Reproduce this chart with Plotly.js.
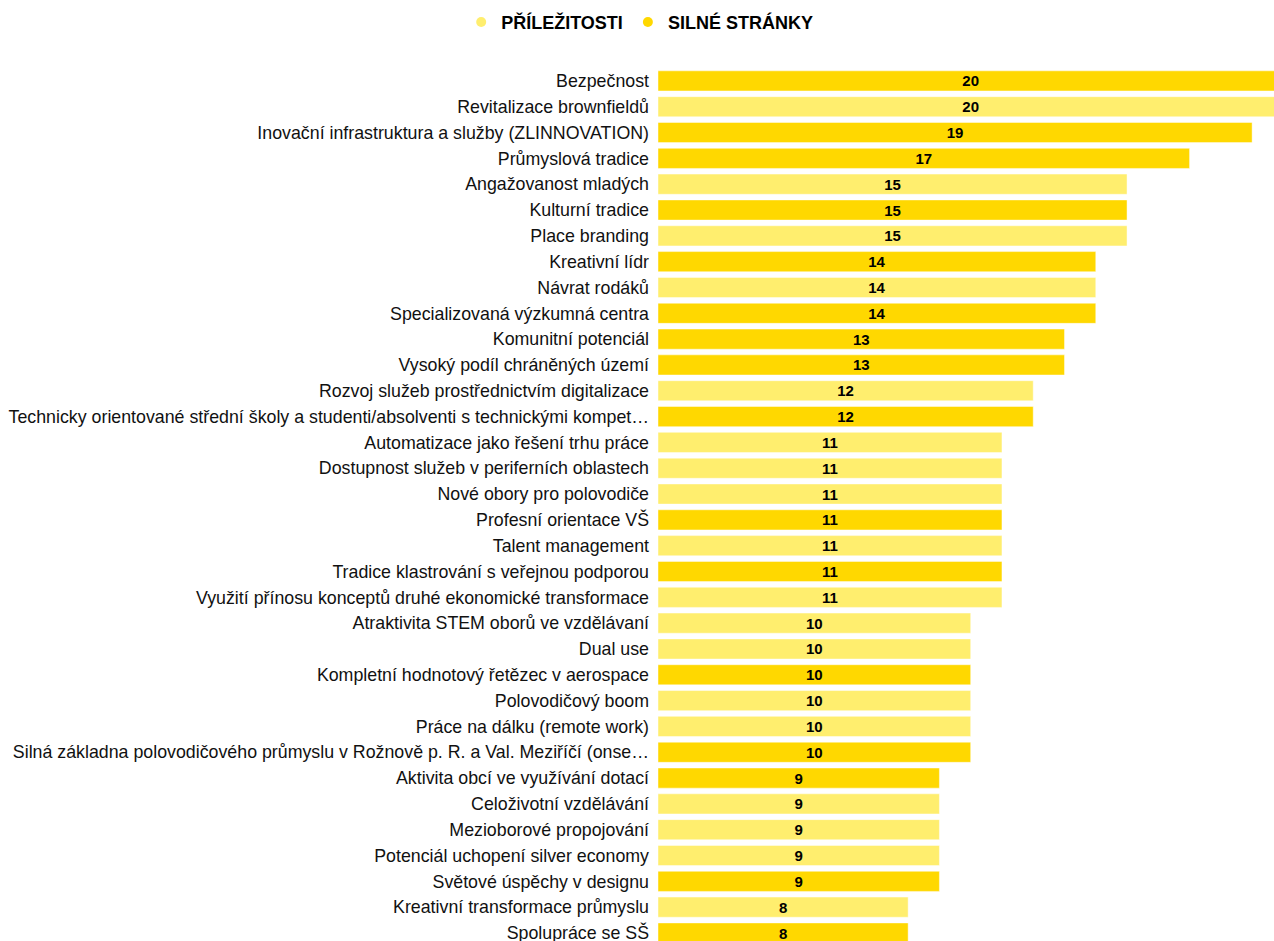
<!DOCTYPE html>
<html>
<head>
<meta charset="utf-8">
<script src="https://cdn.plot.ly/plotly-3.0.1.min.js"></script>
<style>html,body{margin:0;padding:0;background:#fff;}#chart{width:1274px;height:941px;}</style>
</head>
<body>
<div id="chart"></div>
<script>
const categories = [
  "Bezpečnost",
  "Revitalizace brownfieldů",
  "Inovační infrastruktura a služby (ZLINNOVATION)",
  "Průmyslová tradice",
  "Angažovanost mladých",
  "Kulturní tradice",
  "Place branding",
  "Kreativní lídr",
  "Návrat rodáků",
  "Specializovaná výzkumná centra",
  "Komunitní potenciál",
  "Vysoký podíl chráněných území",
  "Rozvoj služeb prostřednictvím digitalizace",
  "Technicky orientované střední školy a studenti/absolventi s technickými kompet…",
  "Automatizace jako řešení trhu práce",
  "Dostupnost služeb v periferních oblastech",
  "Nové obory pro polovodiče",
  "Profesní orientace VŠ",
  "Talent management",
  "Tradice klastrování s veřejnou podporou",
  "Využití přínosu konceptů druhé ekonomické transformace",
  "Atraktivita STEM oborů ve vzdělávaní",
  "Dual use",
  "Kompletní hodnotový řetězec v aerospace",
  "Polovodičový boom",
  "Práce na dálku (remote work)",
  "Silná základna polovodičového průmyslu v Rožnově p. R. a Val. Meziříčí (onse…",
  "Aktivita obcí ve využívání dotací",
  "Celoživotní vzdělávání",
  "Mezioborové propojování",
  "Potenciál uchopení silver economy",
  "Světové úspěchy v designu",
  "Kreativní transformace průmyslu",
  "Spolupráce se SŠ"
];
const values = [20,20,19,17,15,15,15,14,14,14,13,13,12,12,11,11,11,11,11,11,11,10,10,10,10,10,10,9,9,9,9,9,8,8];
const groups = ["S","P","S","S","P","S","P","S","P","S","S","S","P","S","P","P","P","S","P","S","P","P","P","S","P","P","S","S","P","P","P","S","P","S"];
const seriesNames = {P: "PŘÍLEŽITOSTI", S: "SILNÉ STRÁNKY"};
const seriesColors = {P: "#FFEE6E", S: "#FFD800"};
const seriesOrder = ["P", "S"];

const font = "Liberation Sans, Arial, sans-serif";
const traces = [];
seriesOrder.forEach(function (g) {
  const ys = [], xs = [];
  categories.forEach(function (c, i) {
    if (groups[i] === g) { ys.push(c); xs.push(values[i]); }
  });
  traces.push({
    type: "bar",
    orientation: "h",
    y: ys,
    x: xs,
    name: seriesNames[g],
    showlegend: false,
    marker: {color: seriesColors[g], line: {color: "rgba(255,255,255,0.45)", width: 1}},
    text: xs.map(String),
    textposition: "inside",
    insidetextanchor: "middle",
    constraintext: "none",
    textangle: 0,
    textfont: {family: font, size: 15, color: "#000", weight: "bold"},
    hoverinfo: "y+x"
  });
});
seriesOrder.forEach(function (g) {
  traces.push({
    type: "scatter",
    mode: "markers",
    x: [null], y: [null],
    name: seriesNames[g],
    marker: {color: seriesColors[g], size: 10, symbol: "circle"},
    showlegend: true,
    hoverinfo: "skip"
  });
});

const layout = {
  width: 1274,
  height: 941,
  margin: {l: 658, r: 0, t: 68, b: 0, pad: 0},
  paper_bgcolor: "#fff",
  plot_bgcolor: "#fff",
  barmode: "overlay",
  bargap: 0.22,
  font: {family: font, color: "#111"},
  showlegend: true,
  legend: {
    orientation: "h",
    xref: "container", yref: "container",
    x: 0.362, xanchor: "left",
    y: 0.996, yanchor: "top",
    itemwidth: 30,
    tracegroupgap: 0,
    font: {family: font, size: 18, color: "#000", weight: "bold"}
  },
  xaxis: {
    range: [0, 19.7],
    showgrid: false, zeroline: false, showticklabels: false, showline: false, ticks: ""
  },
  yaxis: {
    type: "category",
    categoryorder: "array",
    categoryarray: categories,
    range: [33.31, -0.5],
    showgrid: false, zeroline: false, showline: false,
    ticks: "",
    ticklabelstandoff: 8,
    tickfont: {family: font, size: 17.8, color: "#111"}
  }
};

Plotly.newPlot("chart", traces, layout, {displayModeBar: false});
</script>
</body>
</html>
